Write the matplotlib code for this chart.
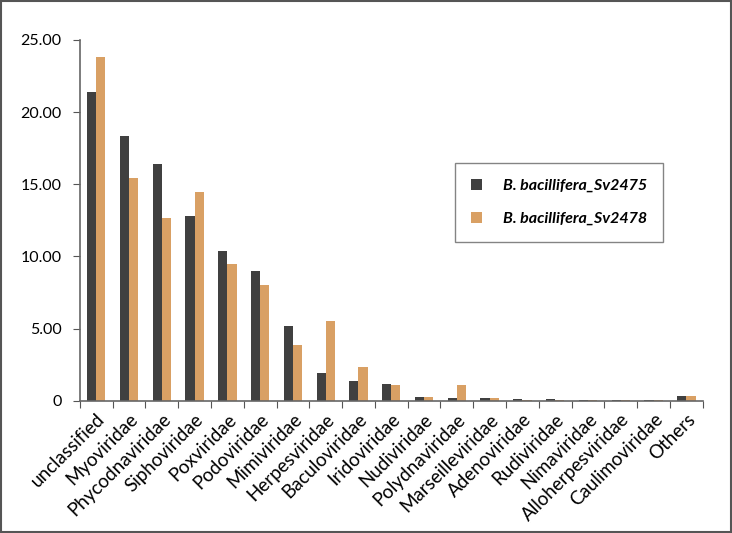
import matplotlib
matplotlib.use("Agg")
import matplotlib.pyplot as plt
import numpy as np

categories = ["unclassified", "Myoviridae", "Phycodnaviridae", "Siphoviridae", "Poxviridae",
              "Podoviridae", "Mimiviridae", "Herpesviridae", "Baculoviridae", "Iridoviridae",
              "Nudiviridae", "Polydnaviridae", "Marseilleviridae", "Adenoviridae", "Rudiviridae",
              "Nimaviridae", "Alloherpesviridae", "Caulimoviridae", "Others"]
sv2475 = [21.4, 18.35, 16.4, 12.8, 10.35, 9.0, 5.15, 1.95, 1.35, 1.15,
          0.25, 0.2, 0.17, 0.13, 0.1, 0.07, 0.07, 0.03, 0.3]
sv2478 = [23.85, 15.45, 12.7, 14.45, 9.45, 8.05, 3.9, 5.5, 2.35, 1.1,
          0.25, 1.12, 0.2, 0.03, 0.09, 0.07, 0.08, 0.08, 0.35]
series_names = ["B. bacillifera_Sv2475", "B. bacillifera_Sv2478"]
yticks = [0, 5, 10, 15, 20, 25]
ytick_labels = ["0", "5.00", "10.00", "15.00", "20.00", "25.00"]

plt.rcParams['font.family'] = ['Lato', 'DejaVu Sans']

fig = plt.figure(figsize=(7.32, 5.33), dpi=100)
ax = fig.add_axes([0.109, 0.248, 0.851, 0.677])

x = np.arange(len(categories))
w = 0.28
ax.bar(x - w/2, sv2475, width=w, color="#404040", label=series_names[0])
ax.bar(x + w/2, sv2478, width=w, color="#D9A064", label=series_names[1])

ax.set_xlim(-0.5, len(categories) - 0.5)
ax.set_ylim(0, 25)
ax.set_yticks(yticks)
ax.set_yticklabels(ytick_labels, fontsize=11.5)

ax.set_xticks(np.arange(len(categories) + 1) - 0.5)
ax.set_xticklabels([])
ax.set_xticks(x, minor=True)
ax.set_xticklabels(categories, minor=True, rotation=45, ha="right", rotation_mode="anchor", fontsize=13.5)
ax.tick_params(axis="x", which="minor", length=0, pad=7)
ax.tick_params(axis="x", which="major", length=5, color="#555555", direction="out")
ax.tick_params(axis="y", length=5, color="#555555", direction="out", pad=8)

for s in ["top", "right"]:
    ax.spines[s].set_visible(False)
for s in ["left", "bottom"]:
    ax.spines[s].set_color("#666666")
    ax.spines[s].set_linewidth(1.2)

leg = ax.legend(loc="upper left", bbox_to_anchor=(0.602, 0.66), frameon=True, fancybox=False,
                edgecolor="#666666", handlelength=0.7, handleheight=0.7, handletextpad=1.3,
                borderpad=1.0, labelspacing=1.2, borderaxespad=0,
                prop={"style": "italic", "weight": "bold", "size": 11.5})
leg.get_frame().set_linewidth(1.0)

fig.patches.append(plt.Rectangle((0.001, 0.001), 0.997, 0.997, transform=fig.transFigure,
                                 fill=False, edgecolor="#555555", linewidth=1.5))

fig.savefig("out.png", dpi=100)
